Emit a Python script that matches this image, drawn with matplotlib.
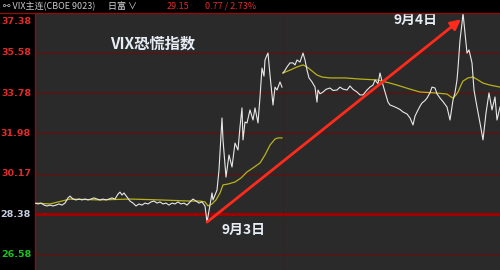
"""
VIX 恐慌指数分时图（9月3日 -> 9月4日）
"""
import numpy as np
import matplotlib
matplotlib.use("Agg")
import matplotlib.pyplot as plt
import matplotlib.transforms as mtransforms

plt.rcParams['font.family'] = ['Noto Sans CJK SC', 'DejaVu Sans']

# 横轴为分时序号，nan 表示换日断开
t = [35, 38, 41, 44, 47, 50, 53, 56, 59, 62, 65, 68, 70, 73, 76, 79, 82, 85, 88, 91,
     94, 97, 100, 103, 106, 109, 112, 115, 118, 120, 122, 124, 127, 130, 133, 136, 139, 142, 145, 148,
     151, 154, 157, 160, 163, 166, 169, 172, 175, 178, 181, 184, 187, 190, 193, 196, 199, 202, 205, 207,
     210, 212, 213, 215, 217, 219, 222, 223, 226, 229, 232, 235, 238, 240, 242, 243, 245, 247, 250, 253,
     255, 258, 260, 262, 264, 265, 267, 268, 270, 273, 275, 277, 280, 282, 282.5,
     283, 285, 287, 290, 293, 295, 297, 300, 303, 305, 307, 309, 312, 315, 317, 318, 320, 323, 326, 330,
     333, 337, 340, 343, 347, 350, 353, 357, 360, 363, 367, 370, 373, 375, 378, 380, 383, 385, 388, 390,
     393, 397, 400, 403, 407, 410, 413, 415, 417, 420, 422, 425, 427, 430, 432, 435, 437, 440, 443, 447,
     450, 453, 455, 457, 458, 460, 462, 463, 465, 467, 469, 472, 474, 477, 480, 483, 486, 489, 492, 495,
     497, 500]
vix = [28.87, 28.83, 28.87, 28.78, 28.74, 28.78, 28.74, 28.78, 28.83, 28.78, 28.87, 29.10, 29.18, 29.05, 29.01, 29.05, 29.01, 29.05, 29.01, 29.05,
       29.10, 29.05, 29.01, 29.05, 29.01, 29.05, 29.10, 29.05, 29.27, 29.36, 29.23, 29.32, 29.14, 28.96, 28.87, 28.74, 28.83, 28.78, 28.87, 28.83,
       28.92, 28.96, 28.87, 28.92, 28.83, 28.87, 28.78, 28.87, 28.83, 28.92, 28.83, 28.87, 28.78, 28.92, 29.05, 28.96, 28.87, 28.92, 28.74, 28.02,
       28.78, 29.32, 29.01, 29.23, 29.45, 30.35, 32.67, 31.69, 30.03, 31.02, 30.48, 31.55, 31.24, 32.27, 33.12, 31.69, 32.49, 32.45, 33.03, 32.58,
       33.12, 32.45, 33.61, 34.90, 34.54, 35.26, 35.48, 35.57, 34.59, 33.25, 34.05, 33.92, 34.28, 34.05, np.nan,
       34.68, 34.80, 34.95, 35.13, 35.13, 35.04, 35.26, 35.17, 35.57, 35.26, 34.81, 34.46, 34.28, 34.05, 33.38, 33.92, 33.75, 33.83, 33.95, 34.01,
       33.90, 33.92, 34.05, 33.96, 33.92, 34.10, 33.95, 33.83, 33.70, 33.70, 33.92, 34.05, 34.14, 34.37, 34.20, 34.68, 34.14, 33.83, 33.38, 33.25,
       33.20, 33.12, 33.05, 32.94, 32.85, 32.67, 32.36, 32.75, 32.94, 33.20, 33.34, 33.45, 33.56, 33.80, 34.05, 34.01, 33.75, 33.56, 33.40, 33.16,
       32.58, 33.47, 33.80, 34.37, 34.90, 36.15, 36.90, 37.36, 36.47, 35.57, 35.71, 35.13, 33.92, 33.16, 32.45, 31.69, 32.89, 33.79, 33.03, 33.61,
       32.58, 33.16]

ma_t = [35, 50, 70, 100, 130, 160, 190, 200, 205, 208, 212, 216, 220, 223, 228, 235, 241, 247, 253, 260,
        265, 270, 275, 278, 282, 282.5,
        283, 290, 297, 303, 307, 312, 317, 322, 330, 345, 360, 377, 390, 397, 410, 420, 435, 447, 451, 453,
        456, 458, 461, 463, 468, 473, 478, 483, 490, 500]
ma = [28.87, 28.83, 29.05, 29.01, 29.05, 29.01, 28.96, 28.96, 28.92, 28.74, 28.83, 29.01, 29.32, 29.68, 29.72, 29.81, 29.99, 30.26, 30.44, 30.66,
      31.02, 31.46, 31.73, 31.78, 31.78, np.nan,
      34.68, 34.81, 34.95, 35.04, 34.95, 34.77, 34.59, 34.50, 34.46, 34.46, 34.41, 34.37, 34.23, 34.14, 33.96, 33.83, 33.79, 33.74, 33.61, 33.56,
      33.70, 33.83, 34.14, 34.32, 34.46, 34.50, 34.37, 34.23, 34.14, 34.05]

price_ticks = [37.38, 35.58, 33.78, 31.98, 30.17, 28.38, 26.58]
tick_colors = ['#e22a2a'] * 5 + ['#c5cde0', '#19c41e']
prev_close = 28.38
day_split = 282.5

arrow_from = (207, 28.02)
arrow_to = (461, 37.08)

fig = plt.figure(figsize=(5, 2.7), dpi=100)
fig.patch.set_facecolor('black')
ax = fig.add_axes([35 / 500, 0, 465 / 500, 257 / 270])
ax.set_facecolor('#2a2a2a')
ax.set_xlim(35, 500)
ax.set_ylim(25.88, 37.36)
ax.set_xticks([])
ax.set_yticks([])
for s in ['top', 'right', 'bottom']:
    ax.spines[s].set_visible(False)
ax.spines['left'].set_color('#8a0f0f')
ax.spines['left'].set_linewidth(1)

# 网格线
for p in price_ticks:
    if p == prev_close:
        ax.axhline(p, color='#a00000', lw=2.2, zorder=1)
    else:
        ax.axhline(p, color='#6a0c0c', lw=0.8, zorder=1)
ax.axvline(day_split, color='#6a0c0c', lw=0.8, zorder=1)

ax.plot(ma_t, ma, color='#b9b21a', lw=0.9, zorder=2)
ax.plot(t, vix, color='#e8e8e8', lw=0.8, zorder=3)

ax.annotate('', xy=arrow_to, xytext=arrow_from,
            arrowprops=dict(arrowstyle='-|>,head_length=0.6,head_width=0.3',
                            color='#ff2a1c', lw=2.0, shrinkA=0, shrinkB=0),
            zorder=4)

ax.text(110, 35.98, 'VIX恐慌指数', color='#e6edf5', fontsize=11, fontweight='bold',
        ha='left', va='center', zorder=5)
ax.text(222, 27.66, '9月3日', color='#e6edf5', fontsize=10, fontweight='bold',
        ha='left', va='center', zorder=5)
ax.text(394, 37.06, '9月4日', color='#e6edf5', fontsize=10, fontweight='bold',
        ha='left', va='center', zorder=5)

# 左侧价格刻度
trans = mtransforms.blended_transform_factory(fig.transFigure, ax.transData)
for p, c in zip(price_ticks, tick_colors):
    y = p - 0.4 if p == price_ticks[0] else p
    fig.text(31 / 500, y, f'{p:.2f}', transform=trans, color=c, fontsize=6.8,
             fontweight='bold', ha='right', va='center', family='DejaVu Sans')

# 顶部信息栏
fig.add_artist(plt.Line2D([0, 1], [1 - 13 / 270, 1 - 13 / 270], color='#8a0f0f', lw=1,
                          transform=fig.transFigure))
hy = 1 - 6.5 / 270
fig.text(3 / 500, hy, '⚯ VIX主连(CBOE 9023)', color='#c8c8c8', fontsize=6.5, va='center')
fig.text(108 / 500, hy, '日富 ∨', color='#d8d8d8', fontsize=6.5, va='center')
fig.text(167 / 500, hy, '29.15', color='#e22a2a', fontsize=6.5, va='center')
fig.text(205 / 500, hy, '0.77 / 2.73%', color='#e22a2a', fontsize=6.5, va='center')

plt.savefig('out.png', dpi=100, facecolor='black')
